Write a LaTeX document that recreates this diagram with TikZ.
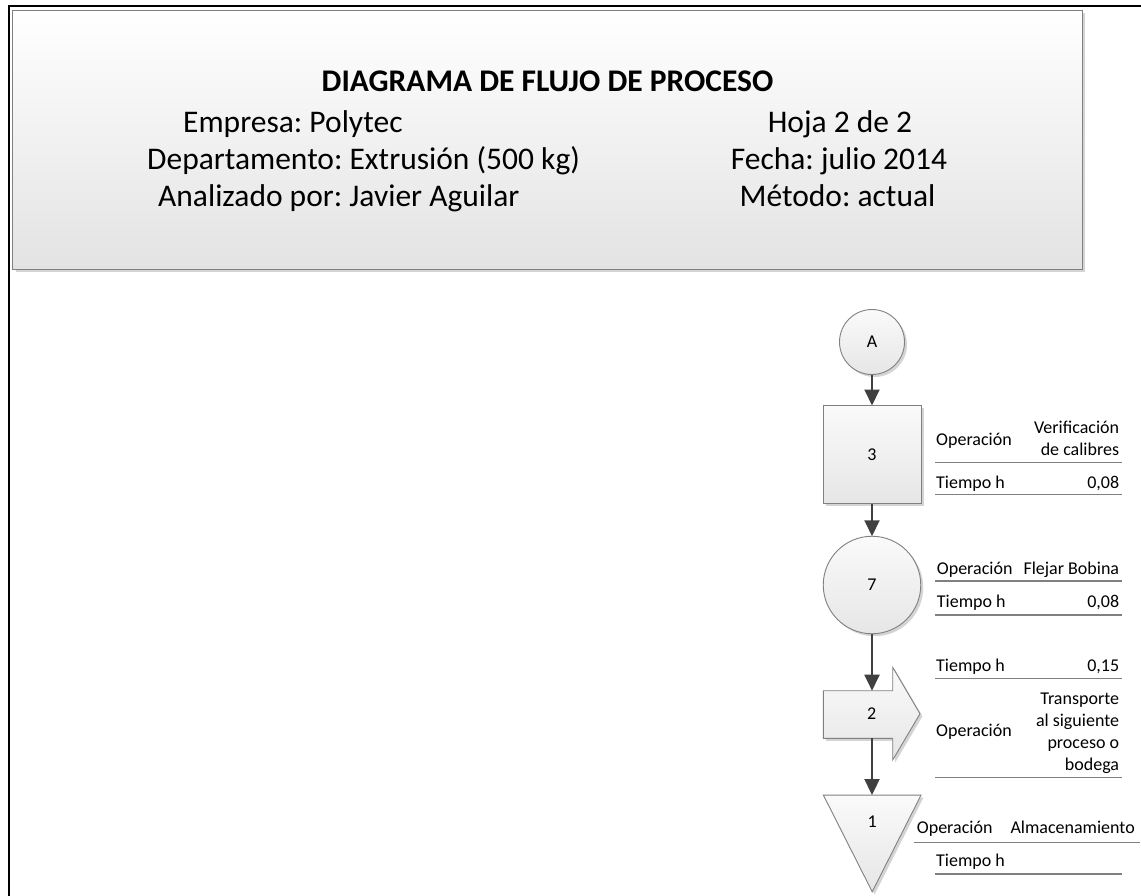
\documentclass[tikz,border=0pt]{standalone}
\usepackage{fontspec}
\setmainfont{Carlito}
\frenchspacing
\usetikzlibrary{arrows.meta,shadows}
\definecolor{conn}{HTML}{404040}
\definecolor{edge}{HTML}{808080}
\definecolor{rulec}{HTML}{808080}
\definecolor{shtop}{HTML}{FAFAFA}
\definecolor{shbot}{HTML}{E6E6E6}
\definecolor{hdtop}{HTML}{FFFFFF}
\definecolor{hdbot}{HTML}{E3E3E3}
\definecolor{shad}{HTML}{D4D4D4}
\begin{document}
\begin{tikzpicture}[x=1pt,y=-1pt,
  shapebase/.style={draw=edge, line width=0.9pt, top color=shtop, bottom color=shbot,
    drop shadow={shadow xshift=2.5pt, shadow yshift=-2.5pt, fill=shad, opacity=1}},
  circ/.style={shapebase, circle, inner sep=0pt, outer sep=0pt, font=\fontsize{18}{22}\selectfont},
  sq/.style={shapebase, rectangle, inner sep=0pt, outer sep=0pt, font=\fontsize{18}{22}\selectfont},
  helper/.style={rectangle, inner sep=0pt, outer sep=0pt},
  hbox/.style={draw=edge, line width=0.9pt, top color=hdtop, bottom color=hdbot,
    drop shadow={shadow xshift=3pt, shadow yshift=-3pt, fill=shad, opacity=1},
    rectangle, inner sep=0pt, outer sep=0pt},
  htitle/.style={inner sep=0pt, font=\fontsize{31.5}{36}\selectfont\bfseries},
  htext/.style={inner sep=0pt, font=\fontsize{31.5}{36}\selectfont},
  lbl/.style={inner sep=0pt, font=\fontsize{18}{22}\selectfont},
  rulel/.style={draw=rulec, line width=1.2pt},
  conn/.style={draw=conn, line width=2pt, -{Triangle[width=15pt,length=16pt]}},
  frame/.style={draw=black, line width=2.3pt}
]
\useasboundingbox (0,0) rectangle (1141,896);

% outer frame
\coordinate (fbl) at (8.7,900);
\coordinate (ftl) at (8.7,6.2);
\coordinate (ftr) at (1145,6.2);
\draw[frame] (fbl) -- (ftl) -- (ftr);

% header
\node[hbox, minimum width=1069.3pt, minimum height=259.5pt, anchor=north west] (hdr) at (12.7,10) {};
\node[htitle, anchor=base] (title) at (547.5,92) {DIAGRAMA DE FLUJO DE PROCESO};
\node[htext, anchor=base west] (emp) at (183,132.5) {Empresa: Polytec};
\node[htext, anchor=base west] (dep) at (147,169.5) {Departamento: Extrusión (500 kg)};
\node[htext, anchor=base west] (ana) at (158,207) {Analizado por: Javier Aguilar};
\node[htext, anchor=base] (hoja) at (840,132.5) {Hoja 2 de 2};
\node[htext, anchor=base] (fecha) at (839,169.5) {Fecha: julio 2014};
\node[htext, anchor=base] (met) at (837.5,207) {Método: actual};

% flow shapes
\node[circ, minimum size=65pt] (A) at (872,342) {A};
\node[sq, minimum width=98pt, minimum height=98pt] (s3) at (872,454.5) {3};
\node[circ, minimum size=97.5pt] (c7) at (872,585) {7};

\node[helper, minimum width=69.4pt, minimum height=47.6pt] (t2) at (858,714.5) {};
\path[shapebase] (t2.north west) -- (t2.north east) -- (892.7,667.3) -- (920,713.8) -- (892.7,760) -- (t2.south east) -- (t2.south west) -- cycle;
\node[lbl] (n2) at (871.7,714) {2};

\node[helper, minimum width=97.7pt, minimum height=96.7pt] (t1) at (872.2,843.4) {};
\path[shapebase] (t1.north west) -- (t1.north east) -- (t1.south) -- cycle;
\node[lbl] (n1) at (872.3,821.7) {1};

% connectors
\draw[conn] (A) -- (s3);
\draw[conn] (s3) -- (c7);
\draw[conn] (c7.south) -- (c7.south |- t2.north);
\draw[conn] (c7.south |- t2.south) -- (c7.south |- t1.north);

% labels for 3
\node[lbl, anchor=base west] (op3) at (936,445) {Operación};
\node[lbl, anchor=base east] (v3a) at (1119.3,433.3) {Verificación};
\node[lbl, anchor=base east] (v3b) at (1119.3,455) {de calibres};
\draw[rulel] (935,462.7) -- (1121.7,462.7);
\node[lbl, anchor=base west] (ti3) at (936,488.3) {Tiempo h};
\node[lbl, anchor=base east] (tv3) at (1119.3,488.3) {0,08};
\draw[rulel] (935,494.3) -- (1121.7,494.3);

% labels for 7
\node[lbl, anchor=base west] (op7) at (936.7,574) {Operación};
\node[lbl, anchor=base east] (v7) at (1119.3,574) {Flejar Bobina};
\draw[rulel] (935,581) -- (1121.7,581);
\node[lbl, anchor=base west] (ti7) at (936.7,607.3) {Tiempo h};
\node[lbl, anchor=base east] (tv7) at (1119.3,607.3) {0,08};
\draw[rulel] (935,615) -- (1121.7,615);

% labels for 2
\node[lbl, anchor=base west] (ti2) at (936,671.7) {Tiempo h};
\node[lbl, anchor=base east] (tv2) at (1119.3,671.7) {0,15};
\draw[rulel] (935,678.3) -- (1121.7,678.3);
\node[lbl, anchor=base west] (op2) at (936,736.7) {Operación};
\node[lbl, anchor=base east] (v2a) at (1119.3,704) {Transporte};
\node[lbl, anchor=base east] (v2b) at (1119.3,726) {al siguiente};
\node[lbl, anchor=base east] (v2c) at (1119.3,748) {proceso o};
\node[lbl, anchor=base east] (v2d) at (1119.3,770) {bodega};
\draw[rulel] (935,777.3) -- (1121.7,777.3);

% labels for 1
\node[lbl, anchor=base west] (op1) at (916.7,833.3) {Operación};
\node[lbl, anchor=base east] (v1) at (1135,833.3) {Almacenamiento};
\draw[rulel] (914,842.5) -- (1140,842.5);
\node[lbl, anchor=base west] (ti1) at (936,866.7) {Tiempo h};
\draw[rulel] (935,874) -- (1121.7,874);
\end{tikzpicture}
\end{document}
